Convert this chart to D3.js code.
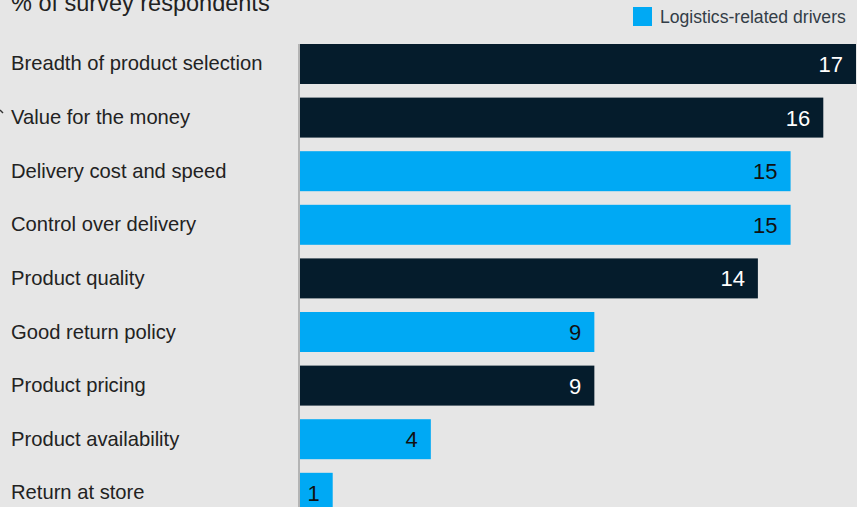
<!DOCTYPE html>
<html>
<head>
<meta charset="utf-8">
<script src="https://cdn.jsdelivr.net/npm/d3@7"></script>
<style>
  body { margin: 0; background: #e6e6e6; }
  svg { display: block; font-family: "Liberation Sans", Arial, sans-serif; }
</style>
</head>
<body>
<script>
// chart data
var categories = ["Breadth of product selection", "Value for the money", "Delivery cost and speed",
  "Control over delivery", "Product quality", "Good return policy", "Product pricing",
  "Product availability", "Return at store"];
var values = [17, 16, 15, 15, 14, 9, 9, 4, 1];
var logistics = [false, false, true, true, false, true, false, true, true];
var legendLabel = "Logistics-related drivers";
var axisTitle = "% of survey respondents";

var width = 857, height = 507;
var darkColor = "#051c2c", blueColor = "#00a9f4";

var svg = d3.select("body").append("svg").attr("width", width).attr("height", height);
svg.append("rect").attr("width", width).attr("height", height).attr("fill", "#e6e6e6");

var x = d3.scaleLinear().domain([0, 17]).range([300, 856]);
// step 53.6, bar height 40
var y = d3.scaleBand().domain(categories).range([44, 512.8]).paddingInner(0.254).paddingOuter(0);

// title (cut off at the top)
svg.append("text").attr("x", 11).attr("y", 11).attr("font-size", 23.5).attr("fill", "#222")
  .text(axisTitle);

// legend
svg.append("rect").attr("x", 633).attr("y", 7).attr("width", 19).attr("height", 19).attr("fill", blueColor);
svg.append("text").attr("x", 660).attr("y", 23).attr("font-size", 17.6).attr("fill", "#333d47")
  .text(legendLabel);

// baseline
svg.append("line").attr("x1", 299).attr("x2", 299).attr("y1", 44).attr("y2", height)
  .attr("stroke", "#b4b4b4").attr("stroke-width", 2);

// small mark at left edge
svg.append("line").attr("x1", 0).attr("y1", 110).attr("x2", 3).attr("y2", 113)
  .attr("stroke", "#333").attr("stroke-width", 1.5);

var rows = svg.selectAll("g.row")
  .data(categories)
  .enter()
  .append("g")
  .attr("class", "row");

rows.append("rect")
  .attr("x", x(0))
  .attr("y", function (d) { return y(d); })
  .attr("width", function (d, i) { return x(values[i]) - x(0); })
  .attr("height", y.bandwidth())
  .attr("fill", function (d, i) { return logistics[i] ? blueColor : darkColor; });

rows.append("text")
  .attr("x", 11)
  .attr("y", function (d) { return y(d) + y.bandwidth() / 2 + 6.5; })
  .attr("font-size", 20.2)
  .attr("fill", "#222")
  .text(function (d) { return d; });

rows.append("text")
  .attr("x", function (d, i) { return x(values[i]) - 13; })
  .attr("y", function (d) { return y(d) + y.bandwidth() / 2 + 8; })
  .attr("text-anchor", "end")
  .attr("font-size", 22)
  .attr("fill", function (d, i) { return logistics[i] ? "#111" : "#fff"; })
  .text(function (d, i) { return values[i]; });
</script>
</body>
</html>
